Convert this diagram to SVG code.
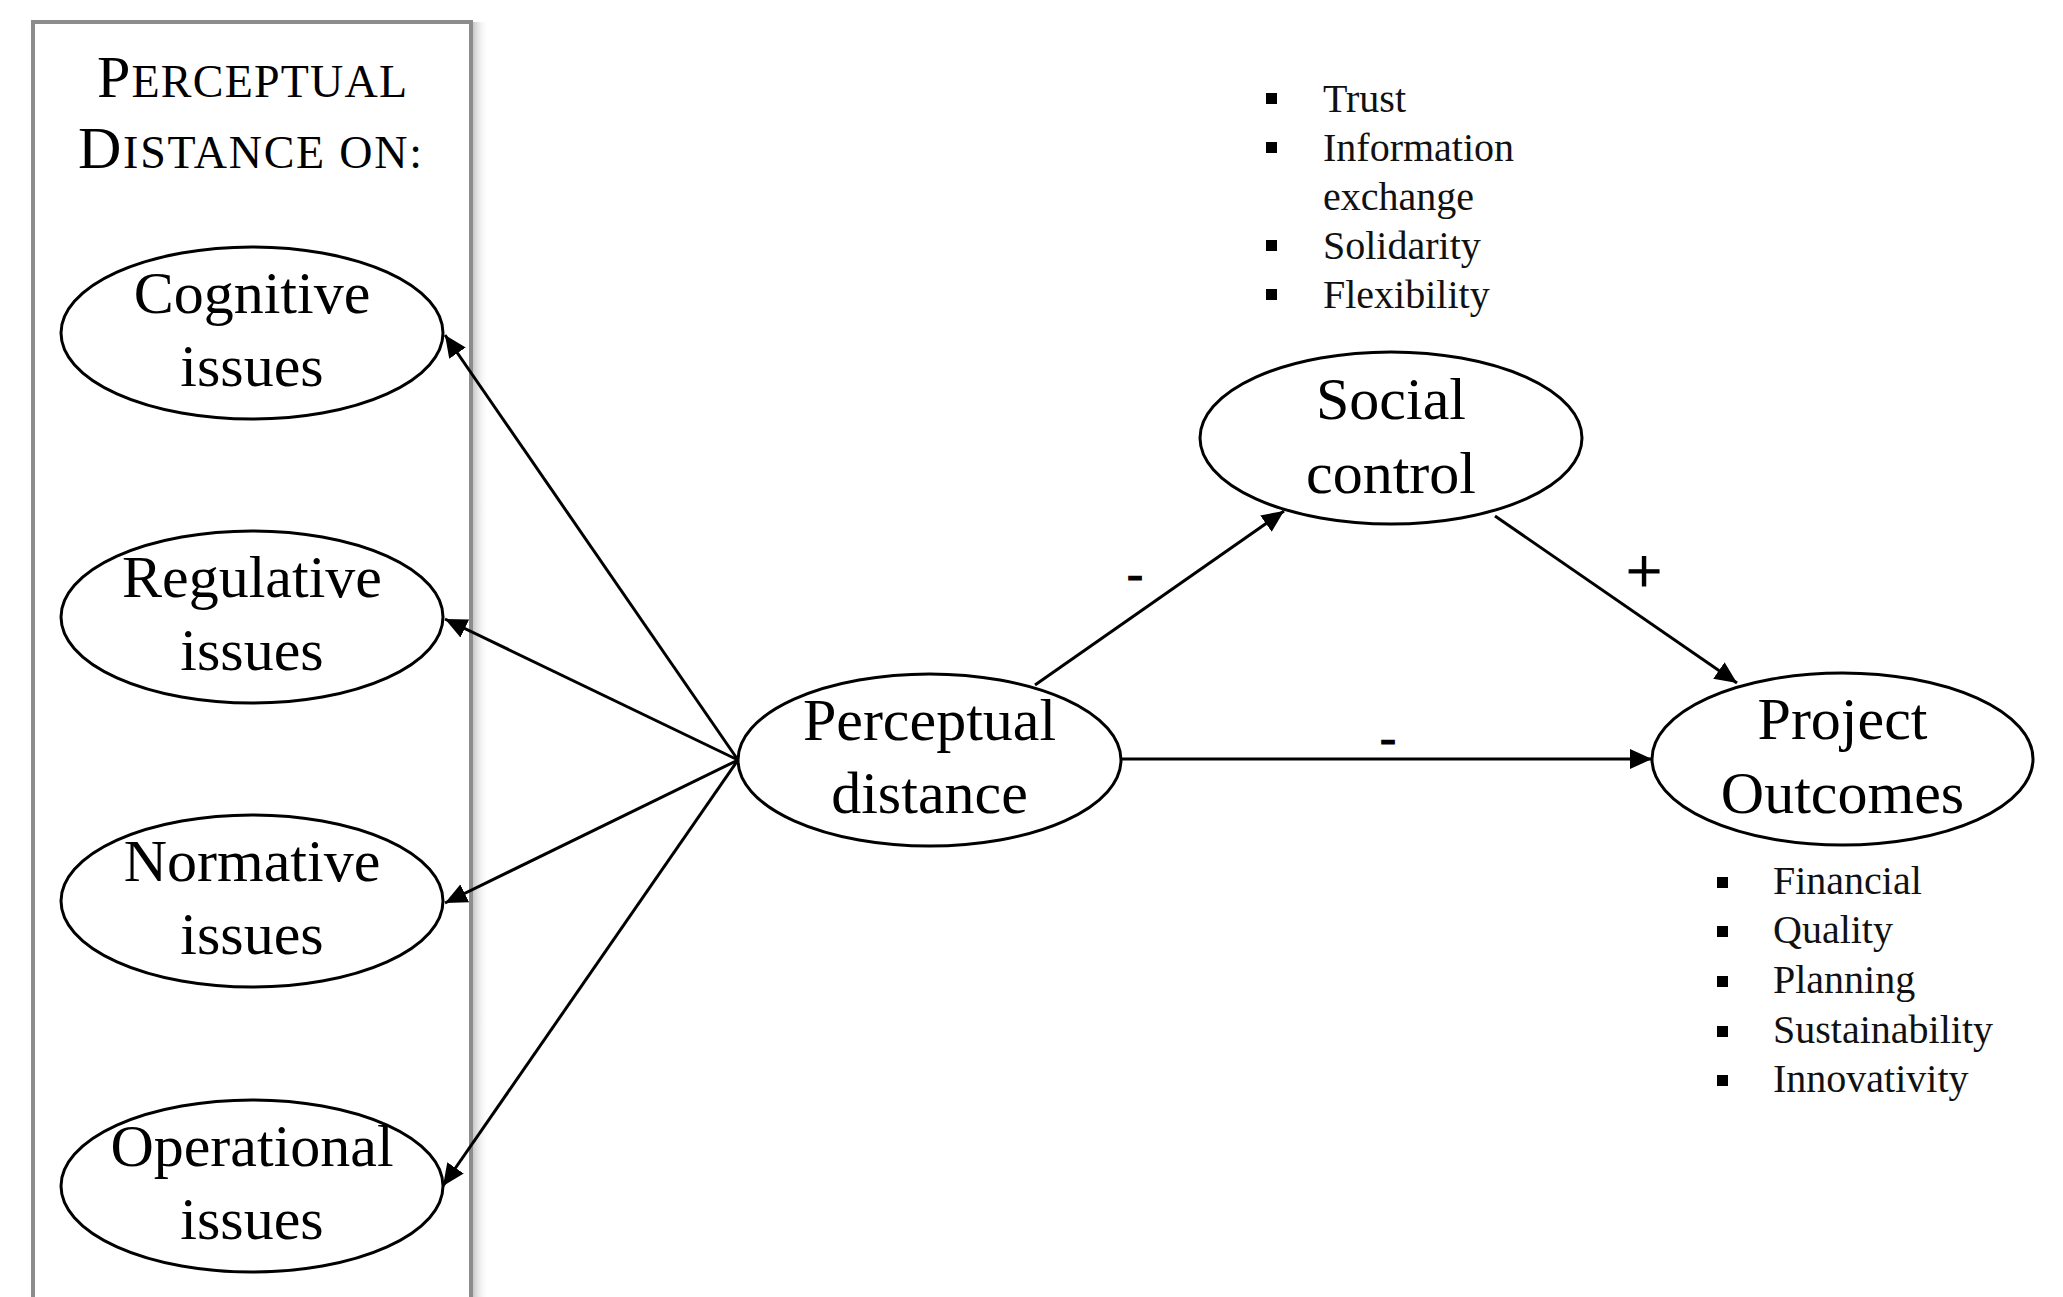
<svg xmlns="http://www.w3.org/2000/svg" width="2063" height="1297" viewBox="0 0 2063 1297">
  <defs>
    <style>
      .node ellipse { fill: #ffffff; stroke: #000000; stroke-width: 3; }
      .node text { font-family: "Liberation Serif", "Times New Roman", serif; font-size: 60px; fill: #000000; text-anchor: middle; }
      .edge { stroke: #000000; stroke-width: 3; fill: none; marker-end: url(#arrow); }
      .lbl { font-family: "Liberation Serif", "Times New Roman", serif; font-size: 48px; fill: #000000; stroke: #000000; stroke-width: 1.2; text-anchor: middle; }
      .bul text { font-family: "Liberation Serif", "Times New Roman", serif; font-size: 40px; fill: #111111; }
      .bul rect { fill: #000000; }
      .title { font-family: "Liberation Serif", "Times New Roman", serif; fill: #000000; text-anchor: middle; }
    </style>
    <marker id="arrow" markerUnits="userSpaceOnUse" markerWidth="24" markerHeight="20" refX="22" refY="10" orient="auto">
      <path d="M0,0 L22,10 L0,20 z" fill="#000000"/>
    </marker>
    <linearGradient id="shadow" x1="0" y1="0" x2="1" y2="0">
      <stop offset="0" stop-color="#c8c8c8"/>
      <stop offset="1" stop-color="#ffffff" stop-opacity="0"/>
    </linearGradient>
  </defs>

  <rect width="2063" height="1297" fill="#ffffff"/>

  <!-- frame -->
  <g id="frame">
    <rect x="473" y="22" width="16" height="1290" fill="url(#shadow)"/>
    <rect x="33" y="22" width="438" height="1300" fill="none" stroke="#8c8c8c" stroke-width="4"/>
    <text class="title" x="252" y="97" textLength="310" lengthAdjust="spacing"><tspan font-size="60">P</tspan><tspan font-size="46">ERCEPTUAL</tspan></text>
    <text class="title" x="250" y="168" textLength="344" lengthAdjust="spacing"><tspan font-size="60">D</tspan><tspan font-size="46">ISTANCE ON:</tspan></text>
  </g>

  <!-- connectors -->
  <g id="connectors">
    <line class="edge" x1="738" y1="760" x2="445" y2="335"/>
    <line class="edge" x1="738" y1="760" x2="445" y2="619"/>
    <line class="edge" x1="738" y1="760" x2="445" y2="903"/>
    <line class="edge" x1="738" y1="760" x2="443" y2="1186"/>
    <line class="edge" x1="1035" y1="685" x2="1284" y2="511"/>
    <line class="edge" x1="1495" y1="516" x2="1737" y2="683"/>
    <line class="edge" x1="1121" y1="759" x2="1652" y2="759"/>
    <text class="lbl" x="1135" y="590">-</text>
    <text class="lbl" x="1644" y="593" style="font-size:64px">+</text>
    <text class="lbl" x="1388" y="754">-</text>
  </g>

  <g id="cognitive" class="node">
    <ellipse cx="252" cy="333" rx="191" ry="86"/>
    <text x="252" y="313">Cognitive</text>
    <text x="252" y="386">issues</text>
  </g>
  <g id="regulative" class="node">
    <ellipse cx="252" cy="617" rx="191" ry="86"/>
    <text x="252" y="597">Regulative</text>
    <text x="252" y="670">issues</text>
  </g>
  <g id="normative" class="node">
    <ellipse cx="252" cy="901" rx="191" ry="86"/>
    <text x="252" y="881">Normative</text>
    <text x="252" y="954">issues</text>
  </g>
  <g id="operational" class="node">
    <ellipse cx="252" cy="1186" rx="191" ry="86"/>
    <text x="252" y="1166">Operational</text>
    <text x="252" y="1239">issues</text>
  </g>

  <g id="perceptual-distance" class="node">
    <ellipse cx="929.5" cy="760" rx="191.5" ry="86"/>
    <text x="929.5" y="740">Perceptual</text>
    <text x="929.5" y="813">distance</text>
  </g>

  <g id="social-control" class="node">
    <ellipse cx="1391" cy="438" rx="191" ry="86"/>
    <text x="1391" y="419">Social</text>
    <text x="1391" y="493">control</text>
  </g>

  <g id="project-outcomes" class="node">
    <ellipse cx="1842.5" cy="759" rx="190.5" ry="86"/>
    <text x="1842.5" y="739">Project</text>
    <text x="1842.5" y="813">Outcomes</text>
  </g>

  <g id="social-control-items" class="bul">
    <rect x="1266" y="93" width="11" height="11"/>
    <text x="1323" y="112">Trust</text>
    <rect x="1266" y="142" width="11" height="11"/>
    <text x="1323" y="161">Information</text>
    <text x="1323" y="210">exchange</text>
    <rect x="1266" y="240" width="11" height="11"/>
    <text x="1323" y="259">Solidarity</text>
    <rect x="1266" y="289" width="11" height="11"/>
    <text x="1323" y="308">Flexibility</text>
  </g>

  <g id="project-outcomes-items" class="bul">
    <rect x="1717" y="877" width="11" height="11"/>
    <text x="1773" y="894">Financial</text>
    <rect x="1717" y="926" width="11" height="11"/>
    <text x="1773" y="943">Quality</text>
    <rect x="1717" y="976" width="11" height="11"/>
    <text x="1773" y="993">Planning</text>
    <rect x="1717" y="1026" width="11" height="11"/>
    <text x="1773" y="1043">Sustainability</text>
    <rect x="1717" y="1075" width="11" height="11"/>
    <text x="1773" y="1092">Innovativity</text>
  </g>
</svg>
